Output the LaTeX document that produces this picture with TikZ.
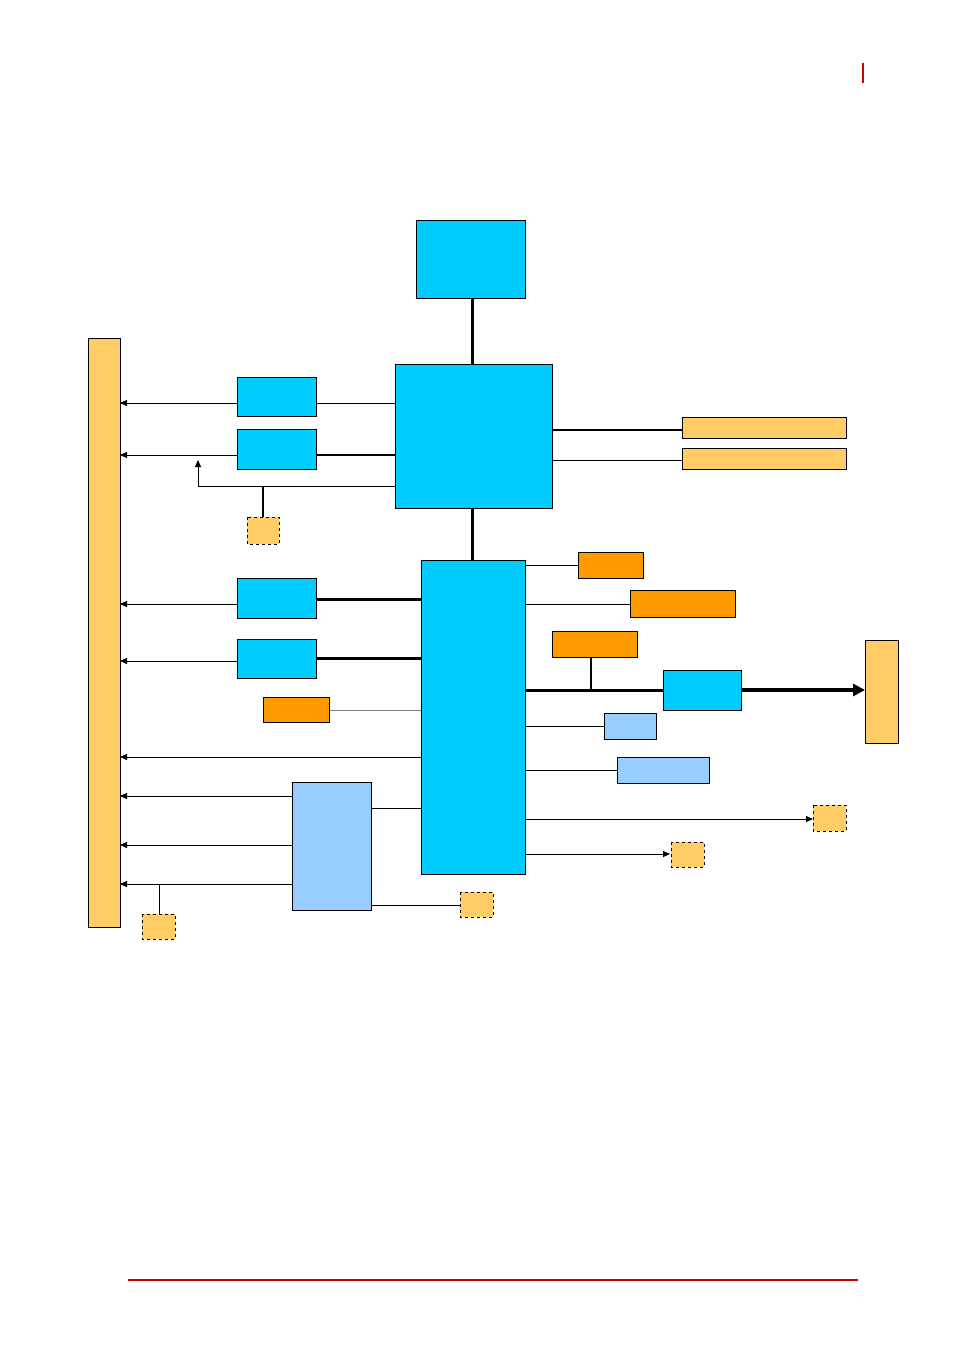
\documentclass[tikz,border=0pt]{standalone}
\usetikzlibrary{arrows.meta}
\definecolor{cy}{HTML}{00CCFF}
\definecolor{yl}{HTML}{FFCC66}
\definecolor{org}{HTML}{FF9900}
\definecolor{lb}{HTML}{99CCFF}
\definecolor{rd}{HTML}{CC0000}
\tikzset{
 cb/.style={draw=black,fill=cy,line width=0.8pt},
 yb/.style={draw=black,fill=yl,line width=0.6pt},
 ob/.style={draw=black,fill=org,line width=0.8pt},
 lbb/.style={draw=black,fill=lb,line width=0.6pt},
 db/.style={draw=black,fill=yl,dashed,line width=0.6pt},
 thin1/.style={line width=0.6pt},
 thk/.style={line width=3pt},
 ar/.style={line width=0.8pt,-{Triangle[length=7pt,width=6pt]}}
}
\begin{document}
\begin{tikzpicture}[x=1pt,y=-1pt]
\useasboundingbox (0,0) rectangle (954,1352);
\draw[rd,line width=1.2pt] (863,63) -- (863,83);
\draw[rd,line width=1.2pt] (128,1280) -- (858,1280);
% connectors first
\coordinate (t1) at (472,298); \coordinate (t2) at (472,364);
\draw[thk] (t1) -- (t2);
\draw[thk] (472,508) -- (472,560);
\draw[thin1] (316,403) -- (395,403);
\draw[line width=1.5pt] (316,455) -- (395,455);
\draw[ar] (237,403) -- (120,403);
\draw[ar] (237,455) -- (120,455);
\draw[ar] (395,486) -- (198,486) -- (198,460);
\draw[line width=1.2pt] (263,486) -- (263,517);
\draw[line width=1.2pt] (552,430) -- (682,430);
\draw[thin1] (552,460) -- (682,460);
\draw[thin1] (525,565) -- (578,565);
\draw[thin1] (525,604) -- (630,604);
\draw[line width=1.2pt] (591,657) -- (591,690);
\draw[thk] (525,690) -- (663,690);
\draw[line width=3.5pt,-{Triangle[length=12pt,width=12pt]}] (741,690) -- (865,690);
\draw[thin1] (525,726) -- (604,726);
\draw[thin1] (525,770) -- (617,770);
\draw[ar] (525,819) -- (813,819);
\draw[ar] (525,854) -- (670,854);
\draw[thk] (316,599) -- (421,599);
\draw[thk] (316,658) -- (421,658);
\draw[ar] (237,604) -- (120,604);
\draw[ar] (237,661) -- (120,661);
\draw[gray,line width=0.5pt] (329,710) -- (421,710);
\draw[ar] (421,757) -- (120,757);
\draw[thin1] (421,808) -- (371,808);
\draw[ar] (292,796) -- (120,796);
\draw[ar] (292,845) -- (120,845);
\draw[ar] (292,884) -- (120,884);
\draw[thin1] (159,884) -- (159,914);
\draw[thin1] (371,905) -- (460,905);
% boxes
\path[cb] (416,220) rectangle (525,298);
\path[cb] (395,364) rectangle (552,508);
\path[cb] (421,560) rectangle (525,874);
\path[yb] (88,338) rectangle (120,927);
\path[cb] (237,377) rectangle (316,416);
\path[cb] (237,429) rectangle (316,469);
\path[db] (247,517) rectangle (279,544);
\path[yb] (682,417) rectangle (846,438);
\path[yb] (682,448) rectangle (846,469);
\path[ob] (578,552) rectangle (643,578);
\path[ob] (630,590) rectangle (735,617);
\path[ob] (552,631) rectangle (637,657);
\path[cb] (663,670) rectangle (741,710);
\path[yb] (865,640) rectangle (898,743);
\path[lbb] (604,713) rectangle (656,739);
\path[lbb] (617,757) rectangle (709,783);
\path[db] (813,805) rectangle (846,831);
\path[db] (671,842) rectangle (704,867);
\path[cb] (237,578) rectangle (316,618);
\path[cb] (237,639) rectangle (316,678);
\path[ob] (263,697) rectangle (329,722);
\path[lbb] (292,782) rectangle (371,910);
\path[db] (142,914) rectangle (175,939);
\path[db] (460,892) rectangle (493,917);
\end{tikzpicture}
\end{document}
